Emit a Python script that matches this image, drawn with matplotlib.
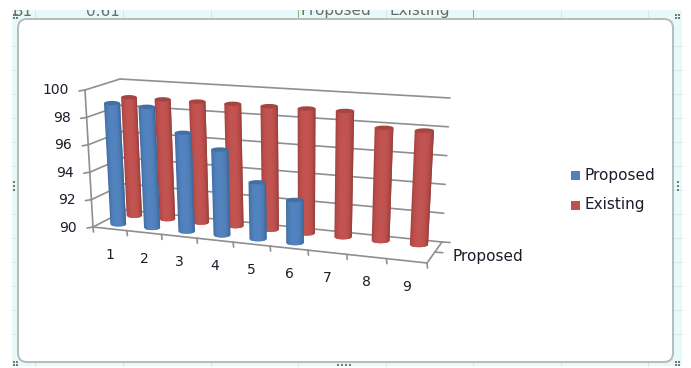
import numpy as np
import matplotlib
matplotlib.use("Agg")
import matplotlib.pyplot as plt
from matplotlib.patches import FancyBboxPatch, Rectangle, Polygon, Ellipse

categories = ["1", "2", "3", "4", "5", "6", "7", "8", "9"]
proposed = [98.9, 98.8, 97.1, 96.1, 94.0, 93.0]
existing = [98.9, 98.9, 98.9, 98.9, 98.9, 98.9, 98.9, 97.9, 97.9]
value_ticks = [90, 92, 94, 96, 98, 100]
series_names = ["Proposed", "Existing"]

BLUE = "#4F81BD"
RED = "#C0504D"
GRID = "#8f8f8f"
TEXT = "#1c1c2a"

# corners of the 3d box on screen: front-left, front-right, back-right, back-left
floor_px = [(93, 227), (427, 263), (442, 242), (126, 210)]
top_px = [(85, 90), (436, 112), (450, 98), (120, 79)]


def homography(corners):
    src = [(0, 0), (9, 0), (9, 1), (0, 1)]
    a, b = [], []
    for (x, d), (u, v) in zip(src, corners):
        a.append([x, d, 1, 0, 0, 0, -u * x, -u * d])
        a.append([0, 0, 0, x, d, 1, -v * x, -v * d])
        b += [u, v]
    return np.append(np.linalg.solve(np.array(a, float), np.array(b, float)), 1).reshape(3, 3)


H_floor = homography(floor_px)
H_top = homography(top_px)


def project(x, d, v):
    # category position, depth 0-1, axis value -> pixel
    p = np.array([x, d, 1.0])
    f = H_floor @ p
    t = H_top @ p
    k = (v - 90) / 10
    return (1 - k) * f[:2] / f[2] + k * t[:2] / t[2]


def shade(color, amount):
    c = np.array(matplotlib.colors.to_rgb(color))
    return tuple(c * amount) if amount < 1 else tuple(c + (1 - c) * (amount - 1))


def cylinder(ax, x, d, value, color, zorder):
    # body is a stack of strips, each one running under the next so no seams show
    r = 0.235
    base = project(x, d, 90)
    top = project(x, d, value)
    half_b = (project(x + r, d, 90)[0] - project(x - r, d, 90)[0]) / 2
    half_t = (project(x + r, d, value)[0] - project(x - r, d, value)[0]) / 2
    ry = 2.2
    edge = np.linspace(-1, 1, 17)
    for i in range(len(edge) - 1):
        e0 = edge[i]
        e1 = edge[min(i + 2, len(edge) - 1)]
        mid = (edge[i] + edge[i + 1]) / 2
        light = 0.80 + 0.22 * (1 - abs(mid + 0.05) ** 3)
        c = shade(color, light)
        b0 = base[1] + ry * np.sqrt(1 - e0 ** 2)
        b1 = base[1] + ry * np.sqrt(1 - e1 ** 2)
        pts = [(base[0] + e0 * half_b, b0), (base[0] + e1 * half_b, b1),
               (top[0] + e1 * half_t, top[1]), (top[0] + e0 * half_t, top[1])]
        ax.add_patch(Polygon(pts, closed=True, fc=c, ec="none", zorder=zorder))
    ax.add_patch(Ellipse(top, 2 * half_t, 2 * ry, fc=shade(color, 0.86), ec="none",
                         zorder=zorder + 0.001))


fig = plt.figure(figsize=(6.91, 3.68), dpi=100)
ax = fig.add_axes([0, 0, 1, 1])
ax.set_xlim(0, 691)
ax.set_ylim(368, 0)
ax.axis("off")

# worksheet behind the chart
ax.add_patch(Rectangle((12, 10), 670, 356, fc="#e8f9f9", ec="none", zorder=0))
for gx in [35, 123, 211, 298, 386, 473, 561, 648]:
    ax.plot([gx, gx], [10, 366], color="#d5e9e9", lw=0.7, zorder=0.1)
for gy in [46, 70, 94, 118, 142, 166, 190, 214, 238, 262, 286, 310, 334]:
    ax.plot([12, 682], [gy, gy], color="#d5e9e9", lw=0.7, zorder=0.1)
ax.plot([298, 298], [10, 19], color="#7fbf7f", lw=0.8, zorder=0.1)
ax.plot([473, 473], [10, 19], color="#7fbf7f", lw=0.8, zorder=0.1)
for sx, label in [(13, "B1"), (86, "0.61"), (301, "Proposed"), (390, "Existing")]:
    ax.text(sx, 11, label, fontsize=11, color="#6a6a6a", va="center", zorder=0.2)

# white page margin trims the cell text
ax.add_patch(Rectangle((0, 0), 691, 10, fc="white", ec="none", zorder=0.3))

card = FancyBboxPatch((18, 19), 655, 343, boxstyle="round,pad=0,rounding_size=9",
                      fc="white", ec="#b4bcbc", lw=1.4, zorder=1)
ax.add_patch(card)

# handles on the chart frame
for hx, hy in [(15, 16), (677, 16), (15, 363), (677, 363)]:
    ax.scatter([hx - 1, hx + 2, hx - 1, hx + 2], [hy - 1, hy - 1, hy + 2, hy + 2],
               s=0.8, color="#777777", marker="s", linewidths=0, zorder=2)
ax.scatter([338, 342, 346, 350], [365] * 4, s=1.2, color="#777777", marker="s", linewidths=0, zorder=2)
ax.scatter([14] * 3, [182, 186, 190], s=1.2, color="#777777", marker="s", linewidths=0, zorder=2)
ax.scatter([678] * 3, [182, 186, 190], s=1.2, color="#777777", marker="s", linewidths=0, zorder=2)


def axis_line(p0, p1, lw=1.2):
    ax.plot([p0[0], p1[0]], [p0[1], p1[1]], color=GRID, lw=lw, zorder=2,
            solid_capstyle="round")


# gridlines on the back and side walls
for v in value_ticks:
    axis_line(project(0, 1, v), project(9, 1, v))
    axis_line(project(0, 0, v), project(0, 1, v))
    front = project(0, 0, v)
    axis_line(front, front + np.array([-6, 1]))
    ax.text(front[0] - 16, front[1] + 0.5, str(v), fontsize=10, color=TEXT,
            ha="right", va="center", zorder=5)

# front left upright, floor edges
axis_line(project(0, 0, 90), project(0, 0, 100))
axis_line(project(0, 0, 90), project(9, 0, 90))
axis_line(project(9, 0, 90), project(9, 1, 90))

for i in range(len(categories) + 1):
    p = project(i, 0, 90)
    axis_line(p, p + np.array([0.5, 5]))
for d in [0.5, 1]:
    p = project(9, d, 90)
    axis_line(p, p + np.array([8, 0.5]))

for i, label in enumerate(categories):
    p = project(i + 0.5, 0, 90)
    ax.text(p[0], p[1] + 26, label, fontsize=10, color=TEXT, ha="center", va="center", zorder=5)

ax.text(453, 257, series_names[0], fontsize=11, color=TEXT, va="center", zorder=5)

# back row first so the front row overlaps it
for i, value in enumerate(existing):
    cylinder(ax, i + 0.5, 0.75, value, RED, 3 + i * 0.01)
for i, value in enumerate(proposed):
    cylinder(ax, i + 0.5, 0.25, value, BLUE, 4 + i * 0.01)

# legend
for name, color, y in zip(series_names, [BLUE, RED], [175.5, 205]):
    ax.add_patch(Rectangle((571, y - 4.5), 9, 9, fc=color, ec="none", zorder=5))
    ax.text(585, y, name, fontsize=11, color=TEXT, va="center", zorder=5)

fig.savefig("out.png", dpi=100)
